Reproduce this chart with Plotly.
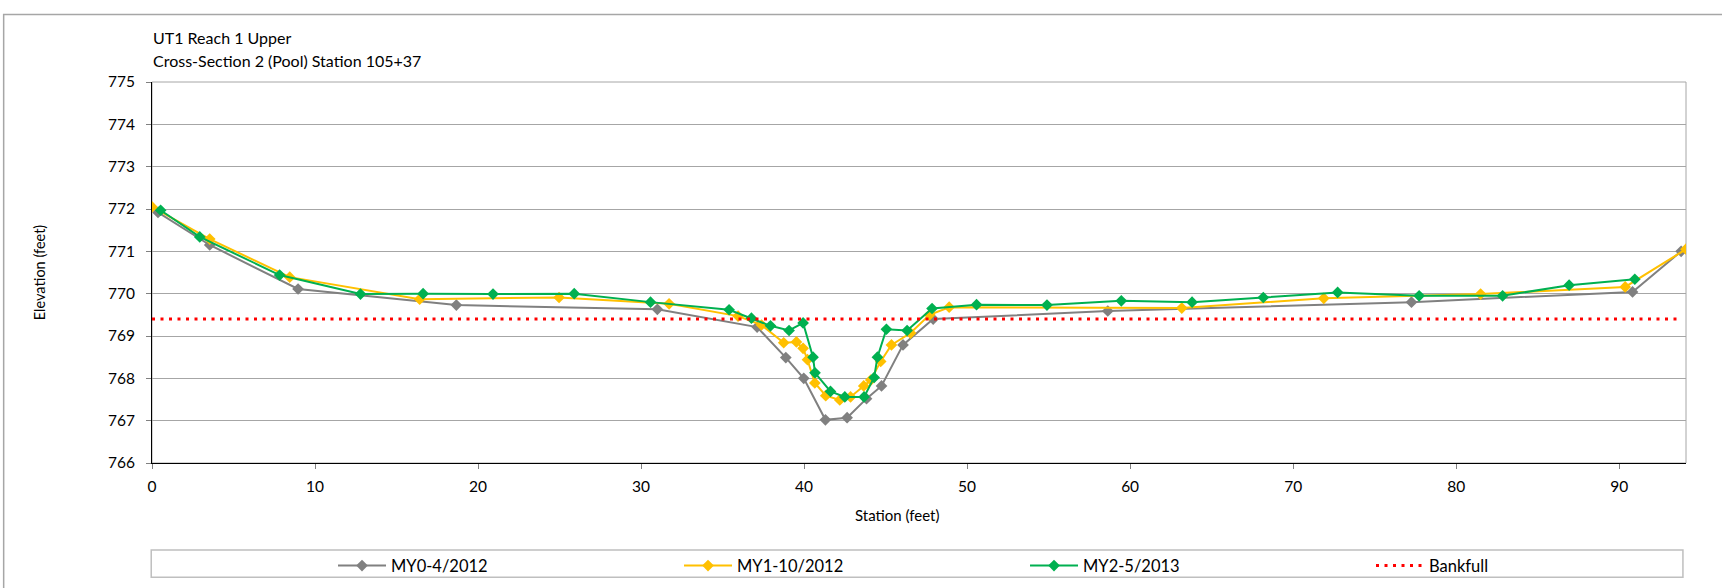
import plotly.graph_objects as go

# ---- data ----
my0_station = [0.37, 3.54, 8.96, 18.67, 31.0, 37.12, 38.88, 39.98, 41.31, 42.64, 43.83, 44.75, 46.07, 47.92, 58.63, 77.26, 90.82, 93.8]
my0_elev = [771.92, 771.15, 770.11, 769.73, 769.63, 769.21, 768.49, 768.00, 767.02, 767.07, 767.52, 767.82, 768.79, 769.40, 769.59, 769.80, 770.04, 771.00]

my1_station = [0.0, 3.54, 8.45, 16.42, 24.97, 31.72, 35.95, 37.39, 38.75, 39.53, 39.94, 40.21, 40.66, 41.33, 42.19, 42.85, 43.66, 44.09, 44.7, 45.36, 46.53, 47.7, 48.9, 63.17, 71.88, 81.5, 90.37, 94.1]
my1_elev = [772.05, 771.29, 770.39, 769.87, 769.91, 769.76, 769.47, 769.26, 768.84, 768.86, 768.71, 768.44, 767.89, 767.59, 767.49, 767.56, 767.82, 767.96, 768.40, 768.79, 769.07, 769.50, 769.68, 769.66, 769.89, 769.99, 770.16, 771.05]

my2_station = [0.53, 2.93, 7.83, 12.79, 16.63, 20.92, 25.9, 30.58, 35.4, 36.77, 37.94, 39.08, 39.94, 40.55, 40.67, 41.62, 42.50, 43.68, 44.30, 44.50, 45.05, 46.32, 47.85, 50.58, 54.9, 59.46, 63.8, 68.17, 72.73, 77.73, 82.85, 86.93, 90.96]
my2_elev = [771.97, 771.34, 770.44, 769.99, 770.00, 769.99, 770.00, 769.80, 769.62, 769.42, 769.24, 769.13, 769.31, 768.50, 768.13, 767.69, 767.56, 767.56, 768.02, 768.50, 769.16, 769.13, 769.65, 769.74, 769.73, 769.83, 769.80, 769.91, 770.03, 769.95, 769.95, 770.20, 770.34]

bankfull_station = [0.0, 93.8]
bankfull_elev = [769.4, 769.4]

x_range = [0, 94.1]
y_range = [766, 775]

FONT = "Lato, 'Open Sans', sans-serif"

fig = go.Figure()
fig.add_trace(go.Scatter(x=my0_station, y=my0_elev, name="MY0-4/2012", mode="lines+markers",
                         line=dict(color="#808080", width=2),
                         marker=dict(symbol="diamond", size=9, color="#808080")))
fig.add_trace(go.Scatter(x=my1_station, y=my1_elev, name="MY1-10/2012", mode="lines+markers",
                         line=dict(color="#FFC000", width=2),
                         marker=dict(symbol="diamond", size=9, color="#FFC000")))
fig.add_trace(go.Scatter(x=my2_station, y=my2_elev, name="MY2-5/2013", mode="lines+markers",
                         line=dict(color="#00B050", width=2),
                         marker=dict(symbol="diamond", size=9, color="#00B050")))
fig.add_trace(go.Scatter(x=bankfull_station, y=bankfull_elev, name="Bankfull", mode="lines",
                         line=dict(color="#FF0000", width=3, dash="3px,5.5px")))

PW, PH = 1534.2, 381.6  # plot area size in px
PL, PT, PB = 152.3, 81.7, 463.3

fig.update_layout(
    width=1722, height=588,
    margin=dict(l=152, r=36, t=82, b=125, autoexpand=False),
    paper_bgcolor="white", plot_bgcolor="white",
    font=dict(family=FONT, size=15, color="#000000"),
    showlegend=True,
    legend=dict(orientation="h", x=0.118, y=-0.270, xanchor="left", yanchor="middle",
                bgcolor="rgba(0,0,0,0)", borderwidth=0, font=dict(size=16.5),
                itemwidth=48, entrywidth=283, entrywidthmode="pixels", tracegroupgap=0),
    xaxis=dict(range=x_range, dtick=10, tick0=0, showgrid=False, zeroline=False,
               showline=True, linecolor="#000000", linewidth=1,
               ticks="outside", ticklen=5, tickcolor="#808080",
               tickfont=dict(size=15.5), ticklabelstandoff=4),
    yaxis=dict(range=y_range, dtick=1, tick0=766, showgrid=True, gridcolor="#A6A6A6", gridwidth=1,
               zeroline=False, showline=True, linecolor="#000000", linewidth=1,
               ticks="outside", ticklen=5, tickcolor="#808080",
               tickfont=dict(size=15.5), ticklabelstandoff=8,
               title=dict(text="Elevation (feet)", font=dict(size=14.5), standoff=58)),
    shapes=[
        dict(type="rect", xref="paper", yref="paper", x0=0, y0=0, x1=1, y1=1,
             line=dict(color="#A6A6A6", width=1), layer="below"),
        dict(type="rect", xref="paper", yref="paper", x0=-0.0005, x1=0.998, y0=-0.3, y1=-0.2285,
             line=dict(color="#BFBFBF", width=1.5), fillcolor="rgba(0,0,0,0)", layer="below"),
        dict(type="rect", xref="paper", yref="paper", x0=-0.0967, x1=1.05, y0=-0.5, y1=1.1774,
             line=dict(color="#A6A6A6", width=1.5), fillcolor="rgba(0,0,0,0)", layer="below"),
    ],
    annotations=[
        dict(text="UT1 Reach 1 Upper", xref="paper", yref="paper",
             x=(151.5 - PL) / PW, y=1 + (PT - 37.3) / PH, xanchor="left", yanchor="middle",
             showarrow=False, font=dict(size=16)),
        dict(text="Cross-Section 2 (Pool) Station 105+37", xref="paper", yref="paper",
             x=(151.5 - PL) / PW, y=1 + (PT - 60.4) / PH, xanchor="left", yanchor="middle",
             showarrow=False, font=dict(size=16)),
        dict(text="Station (feet)", xref="paper", yref="paper",
             x=(897 - PL) / PW, y=(PB - 515) / PH, xanchor="center", yanchor="middle",
             showarrow=False, font=dict(size=15)),
    ],
)

fig.write_html("out.html", config={"displayModeBar": False},
               post_script="document.body.style.margin='0';document.body.style.overflow='hidden';")
